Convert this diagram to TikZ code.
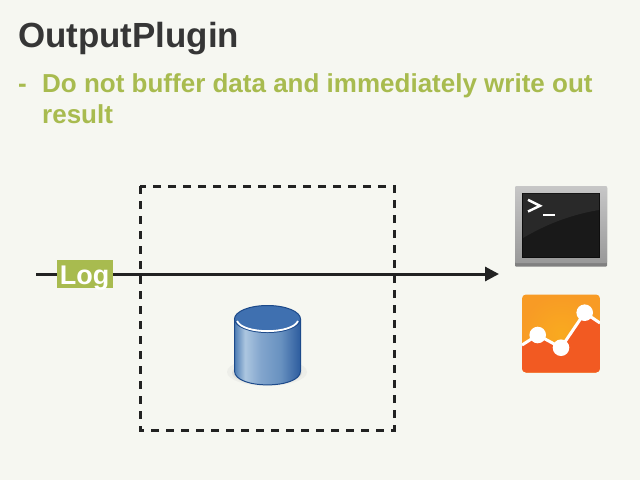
\documentclass[tikz,border=0pt]{standalone}
\usepackage{fontspec}
\setmainfont{Liberation Sans}
\usetikzlibrary{arrows.meta,calc}
\definecolor{bgc}{HTML}{F6F7F1}
\definecolor{titlec}{HTML}{363636}
\definecolor{greenc}{HTML}{A8BB4F}
\definecolor{linec}{HTML}{222222}
\definecolor{dbdark}{HTML}{1D4A8A}
\definecolor{dbinner}{HTML}{3F70B0}
\definecolor{orangea}{HTML}{F89B25}
\definecolor{orangeb}{HTML}{F25A22}
\pgfdeclarehorizontalshading{dbshade}{100bp}{
  color(0bp)=(rgb,255:red,78;green,125;blue,180);
  color(25bp)=(rgb,255:red,78;green,125;blue,180);
  color(33bp)=(rgb,255:red,172;green,198;blue,224);
  color(45bp)=(rgb,255:red,130;green,165;blue,205);
  color(60bp)=(rgb,255:red,104;green,145;blue,192);
  color(75bp)=(rgb,255:red,44;green,92;blue,158);
  color(100bp)=(rgb,255:red,44;green,92;blue,158)}
\tikzset{
  x=1pt,y=-1pt,
  titletext/.style={anchor=base west,inner sep=0,font=\fontsize{34.9}{40}\selectfont\bfseries,text=titlec},
  bodytext/.style={anchor=base west,inner sep=0,font=\fontsize{26}{32}\selectfont\bfseries,text=greenc},
  logbox/.style={fill=greenc,text=white,inner sep=0,minimum width=56pt,text height=24pt,text depth=4pt,font=\fontsize{27}{32}\selectfont\bfseries},
  flow/.style={draw=linec,line width=3pt,-{Triangle[length=14pt,width=14pt]}},
  dashbox/.style={draw=linec,line width=3pt,dash pattern=on 8pt off 7pt},
}
\begin{document}
\begin{tikzpicture}
\useasboundingbox (0,0) rectangle (640,480);
\fill[bgc] (0,0) rectangle (640,480);
\node[titletext] (title) at (18,47) {OutputPlugin};
\node[bodytext] (dash) at (18,92) {-};
\node[bodytext] (l1) at (42,92) {Do not buffer data and immediately write out};
\node[bodytext] (l2) at (42,123) {result};
% dashed box
\coordinate (a) at (140,186);
\coordinate (b) at (394,430);
\draw[dashbox] (a) rectangle (b);
% flow
\coordinate (start) at (36,274);
\coordinate (stop) at (499,274);
\draw[flow] (start) -- (stop);
\node[logbox] (log) at (84.5,274.2) {Log};
% database
\fill[black!22,opacity=.18] (267,372) ellipse (40 and 14);
\fill[black!30,opacity=.22] (267,373) ellipse (35 and 12);
\shade[shading=dbshade] (234.5,319) -- (234.5,371) .. controls (234.5,389.5) and (300.5,389.5) .. (300.5,371) -- (300.5,319) -- cycle;
\draw[dbdark,line width=1pt] (234.5,319) -- (234.5,371) .. controls (234.5,389.5) and (300.5,389.5) .. (300.5,371) -- (300.5,319);
\fill[dbinner,draw=dbdark,line width=1pt] (267.5,319) ellipse (33 and 13.5);
\draw[white,line width=1.8pt] (237,321) .. controls (243,334.5) and (292,334.5) .. (298,321);
% terminal
\fill[black!50,rounded corners=1pt] (515,187) rectangle (607,266.5);
\shade[top color=black!22,bottom color=black!40,rounded corners=1pt] (515,186) rectangle (607,263);
\fill[black!95] (522,192.5) rectangle (600,258);
\fill[black!90] (523,193.5) rectangle (599,257);
\fill[black!84] (523,238) .. controls (550,222) and (575,214) .. (599,210) -- (599,193.5) -- (523,193.5) -- cycle;
\draw[white,line width=2.4pt] (528,199.8) -- (540,205.8) -- (528,211.5);
\draw[white,line width=2pt] (543,215) -- (555,215);
% analytics
\begin{scope}
\clip[rounded corners=4pt] (522,294.5) rectangle (600,372.5);
\shade[inner color=orangea!85!yellow,outer color=orangea] (522,294.5) rectangle (600,372.5);
\fill[orangeb] (522,345) -- (537.7,335) -- (561,347.7) -- (584.7,312.7) -- (600,323) -- (600,372.5) -- (522,372.5) -- cycle;
\draw[white,line width=3pt] (522,345) -- (537.7,335) -- (561,347.7) -- (584.7,312.7) -- (600,323);
\end{scope}
\fill[white] (537.7,335) circle (8.3);
\fill[white] (561,347.7) circle (8.3);
\fill[white] (584.7,312.7) circle (8.3);
\end{tikzpicture}
\end{document}
